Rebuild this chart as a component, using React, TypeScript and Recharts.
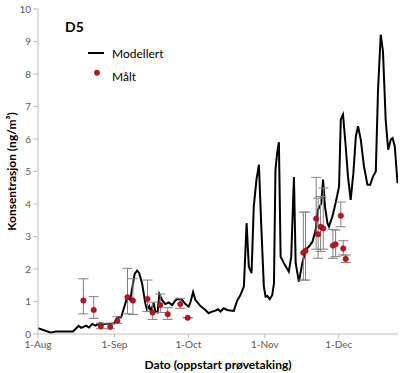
import React from 'react';
import { ComposedChart, Line, Scatter, XAxis, YAxis, ErrorBar } from 'recharts';

const FONT = 'Lato, "Open Sans", sans-serif';

// x = days since 1 Aug
const monthTicks = [0, 31, 61, 92, 122];
const monthLabels = ['1-Aug', '1-Sep', '1-Oct', '1-Nov', '1-Dec'];
const yTicks = [0, 1, 2, 3, 4, 5, 6, 7, 8, 9, 10];

const modelDays = [
  0, 5.3, 7.3, 14.2, 16.5, 17.5, 19.5, 20.7, 22, 23.3, 24.9, 27.2, 30, 31, 32.3, 33.7, 35, 36.3, 37.4, 38.3,
  39.2, 40.2, 41, 42.2, 43.5, 44.2, 45.1, 45.8, 46.9, 47.6, 48.5, 49.2, 50.3, 51.6, 53, 54.4, 55.7, 56.6, 58.4, 59.8,
  61.1, 61.8, 62.9, 63.8, 65.9, 67.9, 69.2, 70.6, 72, 72.9, 74, 75.3, 76.7, 78, 79.4, 80.8, 82.1, 83.5, 84.6, 85.5,
  86.6, 87.5, 88.6, 89.6, 90.5, 91.6, 92.3, 93, 94, 95, 95.7, 96.3, 97, 97.7, 98.4, 99.7, 101.7, 102.7, 103.8, 104.5,
  105.8, 107.2, 108.5, 109.9, 111.3, 112.6, 113.5, 114.3, 114.9, 115.6, 116.4, 117.4, 118, 119.4, 120.7, 122.1, 122.8, 123.7, 124.8, 125.7,
  126.8, 127.9, 128.9, 129.8, 130.9, 132.2, 133.6, 134.7, 135.9, 137, 137.9, 139, 139.9, 141, 142, 143.1, 143.8, 144.7, 145.8,
];
const modelValues = [
  0.18, 0.04, 0.08, 0.08, 0.25, 0.19, 0.26, 0.2, 0.31, 0.26, 0.33, 0.31, 0.32, 0.33, 0.52, 0.51, 0.84, 1.15, 1.05, 1.45,
  1.85, 1.95, 1.88, 1.56, 0.95, 0.74, 0.86, 0.69, 0.96, 0.69, 0.66, 1.23, 1.05, 0.92, 0.97, 0.89, 1.03, 1.08, 1.05, 0.92,
  0.84, 0.97, 1.29, 1.05, 0.86, 0.74, 0.64, 0.69, 0.72, 0.76, 0.69, 0.79, 0.74, 0.72, 0.71, 1.03, 1.2, 1.46, 3.41, 2.07,
  1.87, 3.92, 4.75, 5.21, 3.41, 1.46, 1.15, 1.17, 1.07, 1.2, 1.56, 5.05, 5.57, 5.9, 2.38, 2.18, 1.92, 2.38, 4.83, 2.18,
  1.61, 2.18, 2.59, 2.69, 2.84, 3.2, 3.82, 3.92, 4.03, 4.75, 3.92, 3.41, 3.31, 3.62, 4.03, 4.54, 6.6, 6.75, 5.77, 4.85,
  4.13, 4.95, 6.08, 6.39, 5.98, 5.16, 4.59, 4.59, 4.85, 5.0, 7.52, 9.21, 8.7, 6.6, 5.67, 5.98, 6.03, 5.77, 4.64,
];

const measuredDays = [18.4, 22.6, 25.5, 29.3, 32.2, 36.3, 38.5, 44.4, 46.5, 49.6, 52.6, 57.7, 60.7, 107.6, 108.5, 112.8, 113.6, 114.6, 115.7, 119.6, 120.7, 122.8, 123.8, 124.8];
const measuredValues = [1.03, 0.74, 0.24, 0.22, 0.41, 1.13, 1.03, 1.08, 0.66, 0.89, 0.61, 0.92, 0.5, 2.5, 2.56, 3.55, 3.07, 3.3, 3.25, 2.72, 2.76, 3.64, 2.63, 2.31];
const measuredLow = [0.62, 0.48, 0.16, 0.16, 0.33, 0.62, 0.6, 0.69, 0.45, 0.66, 0.45, 0.79, 0.5, 1.66, 1.66, 2.61, 2.33, 2.54, 2.61, 2.33, 2.38, 3.3, 2.43, 2.2];
const measuredHigh = [1.7, 1.15, 0.33, 0.31, 0.53, 2.02, 1.7, 1.66, 0.98, 1.23, 0.81, 1.1, 0.5, 3.75, 3.75, 4.82, 4.18, 4.23, 4.49, 3.22, 3.2, 4.06, 2.87, 2.43];

const modelData = modelDays.map((day, i) => ({ day, value: modelValues[i] }));
const measuredData = measuredDays.map((day, i) => ({
  day,
  value: measuredValues[i],
  err: [measuredValues[i] - measuredLow[i], measuredHigh[i] - measuredValues[i]],
}));

const Dot = (p: any) => (
  <circle cx={p.cx} cy={p.cy} r={2.7} fill="#C0121C" stroke="#7A0A10" strokeWidth={0.5} />
);

export default function App() {
  return (
    <div style={{ position: 'absolute', left: 0, top: 0, width: 402, height: 373, background: '#fff', fontFamily: FONT }}>
      <ComposedChart width={402} height={373} margin={{ top: 9, right: 4, bottom: 0, left: 0 }} style={{ fontFamily: FONT }}>
        <XAxis
          type="number"
          dataKey="day"
          domain={[0, 146]}
          ticks={monthTicks}
          tickFormatter={(v: number) => monthLabels[monthTicks.indexOf(v)] ?? ''}
          allowDataOverflow
          axisLine={{ stroke: '#BFBFBF' }}
          tickLine={{ stroke: '#BFBFBF' }}
          tickSize={4}
          tickMargin={3}
          tick={{ fill: '#595959', fontSize: 10 }}
          height={39}
          label={{ value: 'Dato (oppstart prøvetaking)', position: 'insideBottom', offset: 4, fill: '#000', fontSize: 12, fontWeight: 700 }}
        />
        <YAxis
          type="number"
          domain={[0, 10]}
          ticks={yTicks}
          allowDataOverflow
          width={38}
          axisLine={{ stroke: '#BFBFBF' }}
          tickLine={{ stroke: '#BFBFBF' }}
          tickSize={5}
          tick={{ fill: '#595959', fontSize: 10 }}
          label={{ value: 'Konsentrasjon (ng/m³)', angle: -90, position: 'insideLeft', offset: 12, fill: '#000', fontSize: 12, fontWeight: 700, style: { textAnchor: 'middle' } }}
        />
        <Line data={modelData} dataKey="value" type="linear" stroke="#000" strokeWidth={2} dot={false} isAnimationActive={false} />
        <Scatter data={measuredData} dataKey="value" fill="#C0121C" shape={Dot} isAnimationActive={false}>
          <ErrorBar dataKey="err" direction="y" width={5} stroke="#808080" strokeWidth={1} />
        </Scatter>
      </ComposedChart>
      <svg width={402} height={373} style={{ position: 'absolute', left: 0, top: 0, pointerEvents: 'none' }}>
        <text x={65} y={32} fontSize={14} fontWeight={700} fill="#000" fontFamily={FONT}>D5</text>
        <line x1={88} x2={104} y1={53} y2={53} stroke="#000" strokeWidth={2} />
        <text x={112} y={57.5} fontSize={12} fill="#000" fontFamily={FONT}>Modellert</text>
        <circle cx={97} cy={72.7} r={2.7} fill="#C0121C" stroke="#7A0A10" strokeWidth={0.5} />
        <text x={112} y={81} fontSize={12} fill="#000" fontFamily={FONT}>Målt</text>
      </svg>
    </div>
  );
}
